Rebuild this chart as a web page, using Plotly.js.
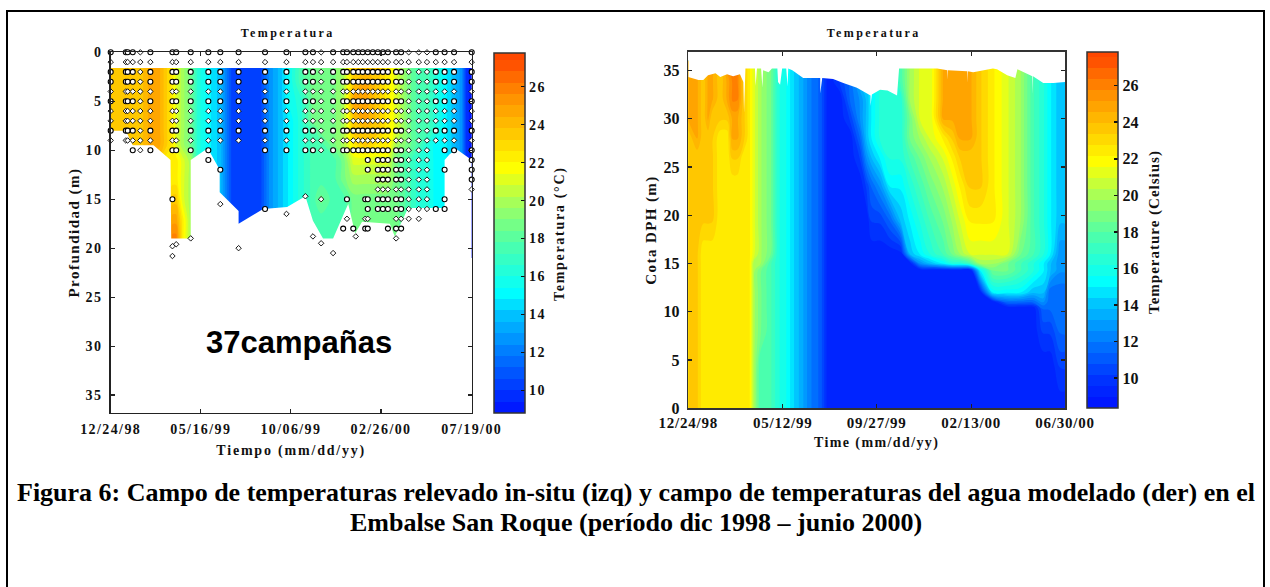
<!DOCTYPE html>
<html>
<head>
<meta charset="utf-8">
<script src="https://cdn.plot.ly/plotly-3.0.1.min.js"></script>
<style>
html,body{margin:0;padding:0;background:#fff;overflow:hidden}
#chart{width:1270px;height:587px}
.xtick text,.ytick text{letter-spacing:1.4px}
.x2tick text{letter-spacing:0.8px}
.xtitle{letter-spacing:1.8px}
.ytitle{letter-spacing:1.5px}
.x2title,.y2title{letter-spacing:1.4px}
.cbleft text{letter-spacing:1.4px}
.cbleft .cbtitle text{letter-spacing:1.7px}
.cbright .cbtitle text{letter-spacing:1px}
.cbleft .cbtitle{transform:translate(15px,1px)}
.cbright .cbtitle{transform:translate(16px,2px)}
.annotation[data-index="0"] text,.annotation[data-index="1"] text{letter-spacing:2.4px}
</style>
</head>
<body>
<div id="chart"></div>
<script>
const startDate = Date.UTC(1998, 11, 24);
const toDate = d => new Date(startDate + d * 864e5).toISOString().slice(0, 10);

// ---------- left panel: measured field ----------
const fieldDepths = [1.6, 3, 5, 7, 8, 9.5, 11, 13, 15, 17, 19, 21];
const fieldDays = [0,24,47,63,76,87,98,104,114,127,139,155,174,193,206,237,253,269,285,301,321,334,353,369,385,404,424,440,453,473,489,502,516,530,545,557,565,573];
const fieldColumns = [
 [23.5,23.5,23.5,23.5,23.5,23.5,23.5,23.5,23.5,23.5,23.5,23.5],
 [23.5,23.5,23.5,23.5,23.5,23.5,23.5,23.5,23.5,23.5,23.5,23.5],
 [23.5,23.5,23.5,23.5,23.5,23.5,23.5,23.5,23.5,23.5,23.5,23.5],
 [24.7,24.7,24.7,24.7,24.7,24.7,23.5,23.5,23.5,23.5,23.5,23.5],
 [24.7,24.7,24.7,24.7,24.7,24.7,23.5,23.5,23.5,23.5,23.5,23.5],
 [23.5,23.5,23.5,23.5,23.5,23.5,22.3,22.3,22.3,22.3,22.3,22.3],
 [22.3,22.3,22.3,22.3,22.3,22.3,22.3,22.3,23.5,24.7,25.9,25.9],
 [21.1,21.1,21.1,21.1,21.1,21.1,22.3,22.3,23.5,24.7,25.9,25.9],
 [19.9,19.9,19.9,19.9,19.9,19.9,21.1,21.1,21.1,22.3,22.3,22.3],
 [18.7,18.7,18.7,18.7,18.7,18.7,19.9,19.9,19.9,19.9,19.9,19.9],
 [16.3,16.3,16.3,16.3,16.3,16.3,16.3,16.3,16.3,16.3,16.3,16.3],
 [15.1,15.1,15.1,15.1,15.1,15.1,15.1,15.1,15.1,15.1,15.1,15.1],
 [13.9,13.9,13.9,13.9,13.9,13.9,13.9,13.9,13.9,13.9,13.9,13.9],
 [10.3,10.3,10.3,10.3,10.3,10.3,10.3,10.3,10.3,10.3,10.3,10.3],
 [10.3,10.3,10.3,10.3,10.3,10.3,10.3,10.3,10.3,10.3,10.3,10.3],
 [10.3,10.3,10.3,10.3,10.3,10.3,10.3,10.3,10.3,10.3,10.3,10.3],
 [12.7,12.7,12.7,12.7,12.7,12.7,12.7,12.7,12.7,12.7,12.7,12.7],
 [13.9,13.9,13.9,13.9,13.9,13.9,13.9,13.9,13.9,13.9,13.9,13.9],
 [15.7,15.7,15.7,15.1,15.1,15.1,15.1,15.1,15.1,15.1,15.1,15.1],
 [17.5,17.5,16.3,16.3,16.3,16.3,16.3,16.3,16.3,16.3,16.3,16.3],
 [18.7,18.7,18.7,18.7,17.5,17.5,17.5,17.5,17.5,17.5,17.5,17.5],
 [18.7,18.7,18.7,18.7,18.7,17.5,17.5,17.5,18.7,17.5,17.5,17.5],
 [18.7,18.7,18.7,18.7,18.7,18.7,17.5,17.5,17.5,17.5,17.5,17.5],
 [19.9,19.9,19.9,19.9,19.9,19.9,18.7,18.7,17.5,17.5,17.5,17.5],
 [23.5,23.5,24.7,23.5,23.5,22.3,21.1,19.9,18.7,18.7,18.7,18.7],
 [23.5,24.7,24.7,24.7,23.5,23.5,21.1,19.9,18.7,18.7,18.7,18.7],
 [23.5,23.5,23.5,23.5,23.5,22.3,21.1,19.9,18.7,18.7,18.7,18.7],
 [22.3,22.3,22.3,22.3,22.3,22.3,21.1,19.9,18.7,18.7,18.7,18.7],
 [21.1,21.1,21.1,21.1,21.1,19.9,18.7,18.7,18.7,18.7,18.7,18.7],
 [18.7,18.7,18.7,18.7,18.7,18.7,17.5,17.5,17.5,17.5,17.5,17.5],
 [17.5,17.5,17.5,17.5,17.5,17.5,16.3,16.3,16.3,16.3,16.3,16.3],
 [17.5,17.5,17.5,17.5,17.5,16.3,16.3,16.3,16.3,16.3,16.3,16.3],
 [16.3,16.3,16.3,16.3,16.3,15.1,15.1,15.1,15.1,15.1,15.1,15.1],
 [15.1,15.1,15.1,15.1,15.1,15.1,15.1,15.1,15.1,15.1,15.1,15.1],
 [13.9,13.9,13.9,13.9,13.9,13.9,13.9,13.9,13.9,13.9,13.9,13.9],
 [12.7,12.7,12.7,12.7,12.7,12.7,12.7,12.7,12.7,12.7,12.7,12.7],
 [9.7,9.7,9.7,9.7,9.7,9.7,9.7,9.7,9.7,9.7,9.7,9.7],
 [9.1,9.1,9.1,9.1,9.1,9.1,9.1,9.1,9.1,9.1,9.1,9.1]
];
// deepest measured layer along time (everything below is blank)
const bottomDays = [0,24,35,68,95,96,127,127.5,154,173,173.5,203,203.5,242,280,309,321,337,353,372,377,388,399,443,451,472,530,530.5,538,549,573];
const bottomDepths = [8,8,9.5,9.5,11,19,19,11,9.8,12,14.3,16.2,17.5,16,15.8,14.7,17.2,19,19,16.2,15.5,18.5,17.3,17.5,18.8,15.9,15.9,11,10.4,9.9,11];

// sampling campaigns: profile from the surface to campaignMaxDepth
const campaignDays = [0,24,27,35,47,63,98,104,127,155,174,203,245,279,309,321,334,353,369,375,385,393,400,408,416,424,432,440,453,461,473,489,502,516,530,545,573];
const campaignMaxDepth = [9,9,9,10,10,10,10,10,10,10,9,9,10,10,10,10,10,10,10,10,10,10,10,12,10,16,16,16,18,18,17,17,16,9,10,10,14];
const smallCampaignDays = [47,334,473,489,502];
const extraDays = [98,98,98,104,127,155,174,174,203,245,279,309,321,334,334,353,375,375,369,385,389,404,404,404,408,408,408,408,440,453,516,530,530,530];
const extraDepths = [15,19.8,20.8,19.6,19,11,12,15.5,20,16,16.5,14.7,18.8,15,19.5,20.5,15,17,18,18,18.8,15,17,18,15,16,17,18,18,19,16,12,15,16];
const largeRows = [0,2,3,5,8,10,11,12,13,15,16,18];

// ---------- right panel: modelled field ----------
const modelLevels = [0,4.5,8,10.4,11,12,14.3,15,16,19.5,23,26,28,30,32,34,36];
const modelDays = [0,13,22,29,35,47,57,65,72,82,90,97,106,121,132,143,154,168,179,194,206,223,238,253,262,270,282,297,312,326,341,356,375,388,400,415,429,448,469,488,507,522,532,547,554];
const modelColumns = [
 [23.5,23.5,23.5,23.5,23.5,23.5,23.5,23.5,23.5,23.5,23.5,23.5,23.5,24.7,24.7,24.7,24.7],
 [23.5,23.5,23.5,23.5,23.5,23.5,23.5,23.5,23.5,23.5,23.5,23.5,24.7,24.7,24.7,24.7,24.7],
 [22.3,22.3,22.3,22.3,22.3,22.3,22.3,22.3,22.3,23.5,23.5,23.5,23.5,23.5,23.5,23.5,23.5],
 [22.3,22.3,22.3,22.3,22.3,22.3,22.3,22.3,22.3,23.5,23.5,23.5,23.5,24.7,24.7,24.7,24.7],
 [22.3,22.3,22.3,22.3,22.3,22.3,22.3,22.3,22.3,23.5,23.5,23.5,23.5,23.5,24.7,24.7,24.7],
 [22.3,22.3,22.3,22.3,22.3,22.3,22.3,22.3,22.3,22.3,22.3,22.3,22.3,23.5,23.5,23.5,23.5],
 [22.3,22.3,22.3,22.3,22.3,22.3,22.3,22.3,22.3,22.3,22.3,22.3,22.3,23.5,24.7,24.7,25.9],
 [22.3,22.3,22.3,22.3,22.3,22.3,22.3,22.3,22.3,22.3,22.3,23.5,24.7,24.7,25.9,25.9,25.9],
 [22.3,22.3,22.3,22.3,22.3,22.3,22.3,22.3,22.3,22.3,22.3,23.5,24.7,24.7,25.9,25.9,25.9],
 [22.3,22.3,22.3,22.3,22.3,22.3,22.3,22.3,22.3,22.3,22.3,22.3,23.5,23.5,23.5,23.5,23.5],
 [22.3,22.3,22.3,22.3,22.3,22.3,22.3,22.3,22.3,22.3,22.3,22.3,22.3,22.3,22.3,22.3,22.3],
 [19.9,19.9,19.9,19.9,19.9,19.9,19.9,19.9,21.1,21.1,21.1,21.1,21.1,21.1,21.1,21.1,21.1],
 [17.5,17.5,18.7,18.7,18.7,18.7,18.7,19.9,19.9,19.9,19.9,19.9,19.9,19.9,19.9,19.9,19.9],
 [17.5,17.5,17.5,17.5,17.5,17.5,17.5,17.5,18.7,18.7,18.7,18.7,18.7,18.7,18.7,18.7,18.7],
 [16.3,16.3,16.3,16.3,16.3,16.3,16.3,16.3,16.3,16.3,16.3,16.3,16.3,16.3,16.3,16.3,16.3],
 [15.7,15.7,15.7,15.7,15.7,15.7,15.7,15.7,15.7,15.7,15.7,15.7,15.7,15.7,15.7,15.7,15.7],
 [14.5,14.5,14.5,14.5,14.5,14.5,14.5,14.5,14.5,14.5,14.5,14.5,14.5,14.5,14.5,14.5,14.5],
 [13.3,13.3,13.3,13.3,13.3,13.3,13.3,13.3,13.3,13.3,13.3,13.3,13.3,13.3,13.3,13.3,13.3],
 [12.1,12.1,12.1,12.1,12.1,12.1,12.1,12.1,12.1,12.1,12.1,12.1,12.1,12.1,12.1,12.1,12.1],
 [11.2,11.2,11.2,11.2,11.2,11.2,11.2,11.2,11.2,11.2,11.2,11.2,11.2,11.2,11.2,11.2,11.2],
 [9.1,9.1,9.1,9.1,9.1,9.1,9.1,9.1,9.1,9.1,9.1,9.1,9.1,9.1,9.1,9.1,9.1],
 [9.1,9.1,9.1,9.1,9.1,9.1,9.1,9.1,9.1,9.1,9.1,9.1,9.1,9.1,9.1,10.3,10.3],
 [9.1,9.1,9.1,9.1,9.1,9.1,9.1,9.1,9.1,9.1,9.1,9.1,9.1,10.3,11.5,11.5,11.5],
 [9.1,9.1,9.1,9.1,9.1,9.1,9.1,9.1,9.1,9.1,9.1,10.3,11.5,12.7,12.7,13.9,13.9],
 [9.1,9.1,9.1,9.1,9.1,9.1,9.1,9.1,9.1,9.1,10.3,12.7,13.9,13.9,13.9,13.9,13.9],
 [9.1,9.1,9.1,9.1,9.1,9.1,9.1,9.1,9.1,10.3,11.5,13.9,15.1,15.1,15.1,15.1,15.1],
 [9.1,9.1,9.1,9.1,9.1,9.1,9.1,9.1,9.1,10.3,12.7,15.1,16.3,16.3,16.3,16.3,16.3],
 [9.1,9.1,9.1,9.1,9.1,9.1,9.1,9.1,9.1,11.5,15.1,16.3,16.3,16.3,16.3,16.3,16.3],
 [9.1,9.1,9.1,9.1,9.1,9.1,9.1,9.1,9.1,13.9,15.1,16.3,16.3,16.3,16.3,17.5,17.5],
 [9.1,9.1,9.1,9.1,9.1,9.1,9.1,9.1,13.9,15.1,16.3,17.5,18.7,18.7,19.9,19.9,19.9],
 [9.1,9.1,9.1,9.1,9.1,9.1,9.1,12.7,15.1,16.3,17.5,18.7,19.9,21.1,21.1,21.1,21.1],
 [9.1,9.1,9.1,9.1,9.1,9.1,9.1,13.9,16.3,17.5,18.7,19.9,21.1,21.1,21.1,21.1,21.1],
 [9.1,9.1,9.1,9.1,9.1,9.1,9.1,15.1,17.5,18.7,19.9,21.1,22.3,24.7,24.7,24.7,24.7],
 [9.1,9.1,9.1,9.1,9.1,9.1,9.1,16.3,18.7,19.9,21.1,22.3,23.5,24.7,24.7,24.7,24.7],
 [9.1,9.1,9.1,9.1,9.1,9.1,9.1,16.3,19.9,21.1,22.3,23.5,24.7,24.7,24.7,24.7,24.7],
 [9.1,9.1,9.1,9.1,9.1,9.1,9.1,17.5,21.1,22.3,23.5,23.5,24.7,24.7,24.7,24.7,24.7],
 [9.1,9.1,9.1,9.1,9.1,9.1,15.1,19.9,21.1,22.3,23.5,23.5,23.5,23.5,23.5,23.5,23.5],
 [9.1,9.1,9.1,9.1,9.1,15.1,18.7,19.9,21.1,22.3,22.3,22.3,22.3,22.3,22.3,22.3,22.3],
 [9.1,9.1,9.1,9.1,11.5,15.1,18.7,18.7,21.1,21.1,21.1,21.1,21.1,21.1,21.1,21.1,21.1],
 [9.1,9.1,9.1,9.1,11.5,15.1,17.5,17.5,18.7,19.9,19.9,19.9,19.9,19.9,19.9,19.9,19.9],
 [9.1,9.1,9.1,9.1,11.5,13.9,16.3,16.3,17.5,17.5,17.5,17.5,17.5,17.5,17.5,17.5,17.5],
 [9.1,9.1,10.3,11.5,12.7,13.9,15.1,15.1,16.3,16.3,16.3,16.3,16.3,16.3,16.3,16.3,16.3],
 [9.1,9.1,10.3,11.5,11.5,11.5,13.9,13.9,15.1,15.1,15.1,15.1,15.1,15.1,15.1,15.1,15.1],
 [9.1,10.3,11.5,11.5,11.5,11.5,12.7,12.7,12.7,13.9,13.9,13.9,13.9,13.9,13.9,13.9,13.9],
 [9.1,10.3,11.5,11.5,11.5,11.5,12.7,12.7,12.7,13.9,13.9,13.9,13.9,13.9,13.9,13.9,13.9]
];
// free surface of the reservoir along time
const surfaceDays = [0,15,22,29,40,47,57,66,76,81,82,84,98.5,99.5,101,107,109,110,118,123,131,132,135,138,144,146,147,153,169,194,194.5,197,213,228,248,268,268.5,270.5,282,293,307,310,366,381,381.5,382.5,410,410.5,411.6,419,448,454,469,481,484,506,506.5,507,522,537,554];
const surfaceLevels = [34.3,34,34,34.5,34.7,34.3,34.6,34.4,34.6,33.8,30.6,35.2,35.2,33.4,35.2,35.2,33.2,35,34.8,35.2,35.2,33.8,33.5,35.2,35.2,33.3,35.2,35,34.2,34.2,32.6,34.2,34.1,33.7,33.2,32.4,31.3,32.5,33,32.9,32.4,35.2,35.2,35,34,35,34.9,33.7,34.9,34.8,35.2,35.1,34.5,34.2,35.1,34.4,32.5,34.4,33.7,33.7,33.8];

// ---------- ticks and colours ----------
const leftTickDates = ['1998-12-24','1999-05-16','1999-10-06','2000-02-26','2000-07-19'];
const rightTickDates = ['1998-12-24','1999-05-12','1999-09-27','2000-02-13','2000-06-30'];
const depthTicks = [0,5,10,15,20,25,30,35];
const levelTicks = [0,5,10,15,20,25,30,35];
const tempTicks = [10,12,14,16,18,20,22,24,26];
const colorTemps = [8.3,10,12,14,15.3,18,20,22,24,26,27.9];
const colorHex = ['#0010ff','#0034ff','#0078ff','#00bfff','#00ffff','#50ffa8','#9fff60','#ffff00','#ffc400','#ff8a00','#ff4800'];

const W = 1270, H = 587;
const px = v => v / W, py = v => 1 - v / H;
const serif = 'Liberation Serif';
const tickFont = {family: serif, size: 14, color: '#111', weight: 700};
const tickFontR = {family: serif, size: 16, color: '#111', weight: 700};
const titleFont = {family: serif, size: 14, color: '#111', weight: 700};
const titleFont15 = {family: serif, size: 15, color: '#111', weight: 700};
const captionFont = {family: serif, size: 26, color: '#000', weight: 700};
const transpose = cols => cols[0].map((_, r) => cols.map(c => c[r]));
const scaleFor = (lo, hi) => colorTemps.map((t, i) => [Math.min(1, Math.max(0, (t - lo) / (hi - lo))), colorHex[i]]);

function field(uid, x, y, z, lo, hi, xaxis, yaxis, cb) {
  return {type: 'contour', uid, x: x.map(toDate), y, z: transpose(z), xaxis, yaxis,
    zauto: false, zmin: lo, zmax: hi, autocontour: false, connectgaps: false,
    contours: {coloring: 'fill', start: lo, end: hi, size: 0.6, showlines: false},
    line: {width: 0}, colorscale: scaleFor(lo, hi), hoverinfo: 'skip',
    colorbar: Object.assign({
      xref: 'paper', yref: 'paper', xanchor: 'left', yanchor: 'top', lenmode: 'pixels', thicknessmode: 'pixels',
      thickness: 31, xpad: 0, ypad: 0, outlinecolor: '#333', outlinewidth: 1.5,
      tickmode: 'array', tickvals: tempTicks, ticks: 'inside', ticklen: 4, tickcolor: '#111', tickwidth: 1.5
    }, cb)};
}
function mask(x, y, x0, x1, yEnd, xaxis, yaxis) {
  return {type: 'scatter', mode: 'lines', xaxis, yaxis, hoverinfo: 'skip', showlegend: false,
    x: [x0, ...x, x1, x0].map(toDate), y: [yEnd, ...y, yEnd, yEnd],
    fill: 'toself', fillcolor: '#ffffff', line: {width: 0, color: '#ffffff'}};
}

// expand campaigns to sample points
const bigX = [], bigY = [], smallX = [], smallY = [];
function addSample(d, depth, col) {
  const big = largeRows.includes(depth) && !smallCampaignDays.includes(col);
  (big ? bigX : smallX).push(toDate(d));
  (big ? bigY : smallY).push(depth);
}
campaignDays.forEach((d, i) => {
  for (let z = 0; z <= campaignMaxDepth[i]; z++) addSample(d, z, d);
});
extraDays.forEach((d, i) => {
  const z = extraDepths[i];
  (Number.isInteger(z) ? addSample(d, z, d) : (smallX.push(toDate(d)), smallY.push(z)));
});

const data = [
  field('left', fieldDays, fieldDepths, fieldColumns, 8.83, 27.79, 'x', 'y', {
    x: px(494), y: py(52.7), len: 360, tickfont: tickFont,
    title: {text: 'Temperatura (°C)', side: 'right', font: titleFont}}),
  mask(bottomDays, bottomDepths, 0, 573, 36.8, 'x', 'y'),
  {type: 'scatter', mode: 'markers', x: bigX, y: bigY, xaxis: 'x', yaxis: 'y', cliponaxis: false, showlegend: false, hoverinfo: 'skip',
   marker: {symbol: 'circle', size: 5, color: '#ffffff', line: {color: '#000', width: 1.1}}},
  {type: 'scatter', mode: 'markers', x: smallX, y: smallY, xaxis: 'x', yaxis: 'y', cliponaxis: false, showlegend: false, hoverinfo: 'skip',
   marker: {symbol: 'diamond', size: 4.2, color: '#ffffff', line: {color: '#000', width: 0.9}}},
  field('right', modelDays, modelLevels, modelColumns, 8.37, 27.84, 'x2', 'y2', {
    x: px(1087), y: py(52), len: 356, tickfont: tickFontR,
    title: {text: 'Temperature (Celsius)', side: 'right', font: titleFont15}}),
  mask(surfaceDays, surfaceLevels, 0, 554, 36.93, 'x2', 'y2')
];

const axisBase = {showgrid: false, zeroline: false, showline: true, linecolor: '#222', linewidth: 1.5,
  ticks: 'inside', ticklen: 4, tickcolor: '#222', tickwidth: 1.2, mirror: 'ticks', tickfont: tickFont};
const annoBase = {xref: 'paper', yref: 'paper', showarrow: false, xanchor: 'center', yanchor: 'middle'};

const layout = {
  width: W, height: H, margin: {l: 0, r: 0, t: 0, b: 0}, paper_bgcolor: '#fff', plot_bgcolor: '#fff', showlegend: false,
  xaxis: Object.assign({}, axisBase, {type: 'date', domain: [px(110.7), px(471.7)], anchor: 'y', range: [toDate(0), toDate(573)],
    tickmode: 'array', tickvals: leftTickDates, tickformat: '%m/%d/%y', ticklabelstandoff: 3,
    title: {text: 'Tiempo (mm/dd/yy)', font: titleFont, standoff: 9}}),
  yaxis: Object.assign({}, axisBase, {domain: [py(412.7), py(52.3)], anchor: 'x', range: [36.8, 0],
    tickmode: 'array', tickvals: depthTicks, ticklabelstandoff: 4,
    title: {text: 'Profundidad (m)', font: titleFont15, standoff: 2}}),
  xaxis2: Object.assign({}, axisBase, {type: 'date', domain: [px(688.3), px(1065)], anchor: 'y2', range: [toDate(0), toDate(554)],
    tickmode: 'array', tickvals: rightTickDates, tickformat: '%m/%d/%y', ticklabelstandoff: 0, linecolor: '#333', tickfont: {family: serif, size: 15, color: '#111', weight: 700},
    title: {text: 'Time (mm/dd/yy)', font: titleFont, standoff: 7}}),
  yaxis2: Object.assign({}, axisBase, {domain: [py(408.3), py(51.7)], anchor: 'x2', range: [0, 36.93],
    tickmode: 'array', tickvals: levelTicks, ticklabelstandoff: 4, linecolor: '#333', tickfont: tickFontR,
    title: {text: 'Cota DPH (m)', font: titleFont15, standoff: 3}}),
  annotations: [
    Object.assign({}, annoBase, {x: px(288), y: py(33), text: 'Temperatura', font: {family: serif, size: 12, color: '#111', weight: 700}}),
    Object.assign({}, annoBase, {x: px(874), y: py(33), text: 'Temperatura', font: {family: serif, size: 12, color: '#111', weight: 700}}),
    Object.assign({}, annoBase, {x: px(299), y: py(342), text: '37campañas', font: {family: 'Liberation Sans', size: 31, color: '#000', weight: 700}}),
    Object.assign({}, annoBase, {x: px(636), y: py(492), text: 'Figura 6: Campo de temperaturas relevado in-situ (izq) y campo de temperaturas del agua modelado (der) en el', font: captionFont}),
    Object.assign({}, annoBase, {x: px(636), y: py(522), text: 'Embalse San Roque (período dic 1998 – junio 2000)', font: captionFont})
  ],
  shapes: [{type: 'rect', xref: 'paper', yref: 'paper', x0: px(7), x1: px(1264), y0: py(11), y1: py(592), line: {color: '#000', width: 2}, fillcolor: 'rgba(0,0,0,0)', layer: 'below'}]
};
Plotly.newPlot('chart', data, layout, {staticPlot: true, displayModeBar: false});
</script>
</body>
</html>
